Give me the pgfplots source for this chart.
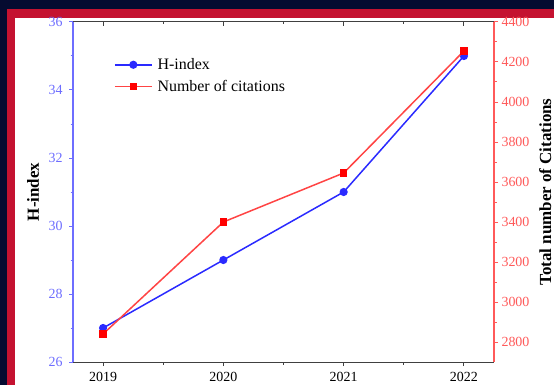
\documentclass[border=0pt]{standalone}
\usepackage{pgfplots}
\pgfplotsset{compat=1.18}
\usepackage{fontspec}
\setmainfont{Liberation Serif}
\definecolor{navy}{HTML}{050B30}
\definecolor{framered}{HTML}{C41230}
\definecolor{hblue}{HTML}{2A2AFF}
\definecolor{cred}{HTML}{FF4444}
\definecolor{lblue}{HTML}{6E6EFF}
\definecolor{lred}{HTML}{FF5A5A}
\begin{document}
\begin{tikzpicture}[x=1bp,y=1bp]
\useasboundingbox (0,0) rectangle (554,385);
\fill[navy] (0,0) rectangle (554,385);
\fill[framered] (7,0) rectangle (554,376);
\fill[white] (15,0) rectangle (554,367);
\pgfplotsset{
 common/.style={scale only axis, width=421bp, height=340bp, at={(73bp,23bp)}, anchor=south west,
   xmin=2018.75, xmax=2022.25,
   /pgf/number format/assume math mode=true, /pgf/number format/1000 sep={},
   ticklabel style={font=\fontsize{14}{15}\selectfont},
   xticklabel style={yshift=-3bp},
   major tick length=4bp, minor tick length=2.5bp,
   xtick={2019,2020,2021,2022}, minor x tick num=1,
   legend image code/.code={\draw[mark repeat=2,mark phase=2] plot coordinates {(0bp,0bp) (18.5bp,0bp) (37bp,0bp)};}}
}
\begin{axis}[common, axis x line*=bottom, axis y line*=left, tick align=outside,
  ymin=26, ymax=36, ytick={26,28,...,36}, minor y tick num=1,
  y axis line style={lblue, line width=1.2pt}, ytick style={lblue, line width=1pt}, yticklabel style={lblue, xshift=-3bp},
  x axis line style={black!75, line width=1pt}, xtick style={black!75, line width=1pt},
  ylabel={\bfseries H-index},
  ylabel style={font=\fontsize{17}{19}\selectfont, at={(axis description cs:-0.095,0.5)}, anchor=center}]
\addplot[hblue, line width=1.5pt, mark=*, mark size=3.3bp] coordinates {(2019,27)(2020,29)(2021,31)(2022,35)};
\end{axis}
\begin{axis}[common, axis x line*=top, axis y line=none, tick align=inside, xticklabels={},
  ymin=0, ymax=1, x axis line style={black!75, line width=1pt}, xtick style={black!75, line width=1pt}]
\end{axis}
\begin{axis}[common, axis x line=none, axis y line*=right, tick align=outside,
  ymin=2700, ymax=4400, ytick={2800,3000,...,4400}, minor y tick num=1,
  y axis line style={lred, line width=1.2pt}, ytick style={lred, line width=1pt}, yticklabel style={lred},
  ylabel={\bfseries Total number of Citations},
  ylabel style={font=\fontsize{17}{19}\selectfont, at={(axis description cs:1.122,0.5)}, anchor=center},
  legend style={draw=none, fill=none, at={(axis description cs:0.09,0.905)}, anchor=north west,
    font=\fontsize{16}{17}\selectfont, row sep=5bp, /tikz/every odd column/.append style={column sep=3bp}},
  legend cell align=left]
\addlegendimage{hblue, line width=1.5pt, mark=*, mark size=3.3bp}
\addlegendentry{H-index}
\addplot[cred, line width=1.5pt, mark=square*, mark size=3bp, mark options={fill=red, draw=red}] coordinates {(2019,2840)(2020,3400)(2021,3645)(2022,4255)};
\addlegendentry{Number of citations}
\end{axis}
\end{tikzpicture}
\end{document}
